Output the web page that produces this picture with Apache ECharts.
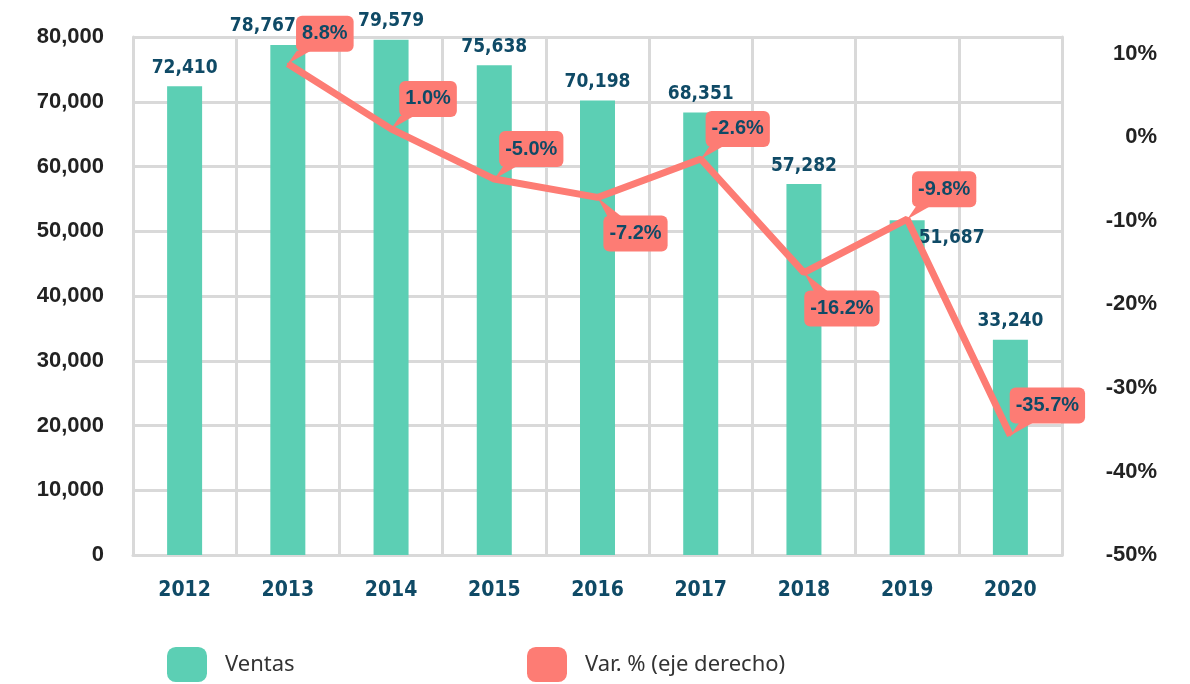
<!DOCTYPE html>
<html>
<head>
<meta charset="utf-8">
<script src="https://cdn.jsdelivr.net/npm/echarts@6/dist/echarts.min.js"></script>
<style>
  html, body { margin: 0; padding: 0; background: #fff; }
  #chart { width: 1190px; height: 684px; }
</style>
</head>
<body>
<div id="chart"></div>
<script>
// datos
const years = ['2012', '2013', '2014', '2015', '2016', '2017', '2018', '2019', '2020'];
const ventas = [72410, 78767, 79579, 75638, 70198, 68351, 57282, 51687, 33240];
const variacion = [null, 8.8, 1.0, -5.0, -7.2, -2.6, -16.2, -9.8, -35.7];
// ejes
const leftMin = 0, leftMax = 80000, leftStep = 10000;
const rightMin = -50, rightMax = 12, rightStep = 10;
// etiquetas de la línea que van debajo del punto
const labelBelow = ['2016', '2018'];

const BAR = '#5ccfb4';
const LINE = '#fd7c74';
const NAVY = '#0f4a66';
const GRID = '#d9d9d9';
const NARROW = '"Liberation Sans Narrow", "DejaVu Sans Condensed", sans-serif';

const chart = echarts.init(document.getElementById('chart'));

function isBelow(i) {
  return labelBelow.indexOf(years[i]) >= 0;
}

const barData = ventas.map(function (v, i) {
  if (years[i] === '2019') {
    // etiqueta desplazada a la derecha para no chocar con la línea
    return {value: v, label: {position: [62, 18], align: 'center', verticalAlign: 'middle'}};
  }
  if (years[i] === '2013') {
    return {value: v, label: {offset: [-25, 0]}};
  }
  return v;
});

// "colita" de los globos de la línea
const tailData = variacion.map(function (v, i) {
  if (v === null) return null;
  if (isBelow(i)) {
    return {value: v, symbol: 'path://M0 0 L10 19 L24 19 Z', symbolSize: [24, 19], symbolOffset: [12, 9.5]};
  }
  return {value: v, symbol: 'path://M0 13 L9 0 L23 0 Z', symbolSize: [23, 13], symbolOffset: [11.5, -6.5]};
});

const legendText = {fontFamily: '"Noto Sans", sans-serif', fontSize: 22, color: '#333', padding: [0, 0, 0, 13]};

const option = {
  animation: false,
  grid: {left: 133, right: 128, top: 37, bottom: 129, containLabel: false},
  legend: [
    {
      left: 167, top: 647, padding: 0,
      data: ['Ventas'],
      icon: 'roundRect', itemWidth: 40, itemHeight: 35,
      textStyle: legendText
    },
    {
      left: 527, top: 647, padding: 0,
      data: ['Var. % (eje derecho)'],
      icon: 'roundRect', itemWidth: 40, itemHeight: 35,
      textStyle: legendText
    }
  ],
  xAxis: [{
    type: 'category',
    data: years,
    axisTick: {show: false},
    axisLine: {show: true, lineStyle: {color: GRID, width: 3}},
    splitLine: {show: true, lineStyle: {color: GRID, width: 3}},
    axisLabel: {
      margin: 25,
      color: NAVY,
      fontFamily: NARROW,
      fontWeight: 'bold',
      fontSize: 21
    }
  }],
  yAxis: [
    {
      type: 'value',
      min: leftMin, max: leftMax, interval: leftStep,
      axisLine: {show: true, lineStyle: {color: GRID, width: 3}},
      axisTick: {show: false},
      splitLine: {show: true, lineStyle: {color: GRID, width: 3}},
      axisLabel: {
        margin: 29,
        color: '#222',
        fontFamily: '"Liberation Sans", Arial, sans-serif',
        fontWeight: 'bold',
        fontSize: 22,
        formatter: function (v) { return v.toLocaleString('en-US'); }
      }
    },
    {
      type: 'value',
      position: 'right',
      min: rightMin, max: rightMax, interval: rightStep,
      alignTicks: false,
      axisLine: {show: true, lineStyle: {color: GRID, width: 3}},
      axisTick: {show: false},
      splitLine: {show: false},
      axisLabel: {
        margin: 95,
        align: 'right',
        showMaxLabel: false,
        color: '#222',
        fontFamily: '"Liberation Sans", Arial, sans-serif',
        fontWeight: 'bold',
        fontSize: 22,
        formatter: '{value}%'
      }
    }
  ],
  series: [
    {
      type: 'bar',
      name: 'Ventas',
      data: barData,
      barWidth: 35,
      itemStyle: {color: BAR},
      label: {
        show: true,
        position: 'top',
        distance: 9,
        color: NAVY,
        fontFamily: NARROW,
        fontWeight: 'bold',
        fontSize: 19,
        formatter: function (p) { return p.value.toLocaleString('en-US'); }
      }
    },
    {
      type: 'line',
      name: 'Var. % (eje derecho)',
      yAxisIndex: 1,
      data: variacion,
      symbol: 'circle',
      symbolSize: 2,
      showSymbol: true,
      itemStyle: {color: LINE},
      lineStyle: {color: LINE, width: 7},
      z: 5,
      label: {
        show: true,
        position: 'inside',
        backgroundColor: LINE,
        borderRadius: 6,
        padding: [8, 6, 8, 6],
        color: NAVY,
        fontFamily: '"Liberation Sans", Arial, sans-serif',
        fontWeight: 'bold',
        fontSize: 20,
        formatter: function (p) { return p.value.toFixed(1) + '%'; }
      },
      labelLayout: function (params) {
        return isBelow(params.dataIndex) ? {dx: 38, dy: 36} : {dx: 37, dy: -30};
      }
    },
    {
      type: 'scatter',
      name: 'cola',
      yAxisIndex: 1,
      data: tailData,
      itemStyle: {color: LINE, opacity: 1},
      silent: true,
      z: 6
    }
  ]
};

chart && chart.setOption(option);
window.addEventListener('resize', function () {
  chart.resize();
});
</script>
</body>
</html>
